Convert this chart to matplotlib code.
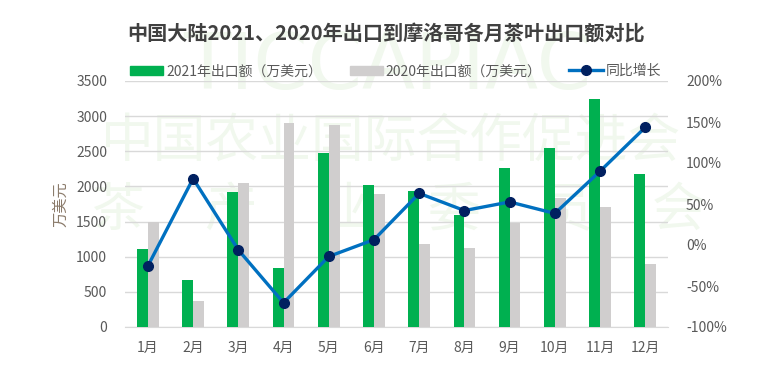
import numpy as np
import matplotlib.pyplot as plt
from matplotlib.lines import Line2D
from matplotlib.patches import Patch

plt.rcParams['font.family'] = ['Noto Sans CJK SC', 'DejaVu Sans']

months = ['1月', '2月', '3月', '4月', '5月', '6月', '7月', '8月', '9月', '10月', '11月', '12月']
export_2021 = [1105, 664, 1925, 839, 2480, 2020, 1930, 1598, 2258, 2547, 3248, 2181]
export_2020 = [1490, 365, 2044, 2902, 2878, 1892, 1186, 1128, 1480, 1831, 1712, 896]
growth = [-25.5, 81, -6, -70.5, -14, 6.5, 63, 42, 52.5, 38.5, 90, 143.5]

green = '#00B050'
grey = '#D0CECE'
line_blue = '#0070C0'
navy = '#002060'
txt = '#595959'
wm = '#F1F8EE'

fig = plt.figure(figsize=(7.83, 3.75), dpi=100)
ax = fig.add_axes([0.16, 0.128, 0.693, 0.656])
ax.patch.set_alpha(0)

# watermark behind everything
fig.text(0.495, 0.822, 'TICCAPIAC', fontsize=56, color=wm, ha='center', va='center',
         family=['Liberation Sans Narrow', 'DejaVu Sans'], zorder=-5)
fig.text(0.50, 0.622, '中国农业国际合作促进会', fontsize=38, color=wm, ha='center', va='center',
         zorder=-5)
for i, ch in enumerate('茶产业委员会'):
    fig.text((118 + i * 112) / 783, 0.44, ch, fontsize=38, color=wm, ha='center', va='center',
             zorder=-5)

x = np.arange(len(months))
w = 0.24
ax.bar(x - w / 2, export_2021, width=w, color=green, zorder=3)
ax.bar(x + w / 2, export_2020, width=w, color=grey, zorder=3)
ax.set_ylim(0, 3500)
ax.set_xlim(-0.5, len(months) - 0.5)
ax.set_yticks(range(0, 3501, 500))
ax.yaxis.grid(True, color='#D9D9D9', lw=1, zorder=0)
ax.set_axisbelow(True)
ax.set_xticks(x)
ax.set_xticklabels(months)
ax.tick_params(axis='x', length=0, pad=10, labelsize=10, colors=txt)
ax.tick_params(axis='y', length=0, pad=13, labelsize=10, colors=txt)
for s in ['top', 'right', 'left']:
    ax.spines[s].set_visible(False)
ax.spines['bottom'].set_color('#D9D9D9')
ax.set_ylabel('万美元', fontsize=11, color='#8B7B6B', labelpad=5)

ax2 = ax.twinx()
ax2.plot(x, growth, color=line_blue, lw=2.4, marker='o', markersize=7,
         markerfacecolor=navy, markeredgecolor=navy, zorder=5)
ax2.set_ylim(-100, 200)
ax2.set_yticks(range(-100, 201, 50))
ax2.set_yticklabels([f'{v}%' for v in range(-100, 201, 50)])
ax2.tick_params(axis='y', length=0, pad=13, labelsize=10, colors=txt)
for s in ax2.spines.values():
    s.set_visible(False)

fig.text(0.493, 0.912, '中国大陆2021、2020年出口到摩洛哥各月茶叶出口额对比', fontsize=14.5,
         fontweight='bold', color='#404040', ha='center', va='center')

handles = [Patch(color=green), Patch(color=grey),
           Line2D([], [], color=line_blue, lw=2.4, marker='o', markersize=7,
                  markerfacecolor=navy, markeredgecolor=navy)]
labels = ['2021年出口额（万美元）', '2020年出口额（万美元）', '同比增长']
fig.legend(handles, labels, loc='center', bbox_to_anchor=(0.505, 0.81), ncol=3,
           frameon=False, fontsize=10, handlelength=2.4, handleheight=0.7,
           handletextpad=0.2, columnspacing=2.0, labelcolor=txt)

fig.savefig('out.png', dpi=100)
